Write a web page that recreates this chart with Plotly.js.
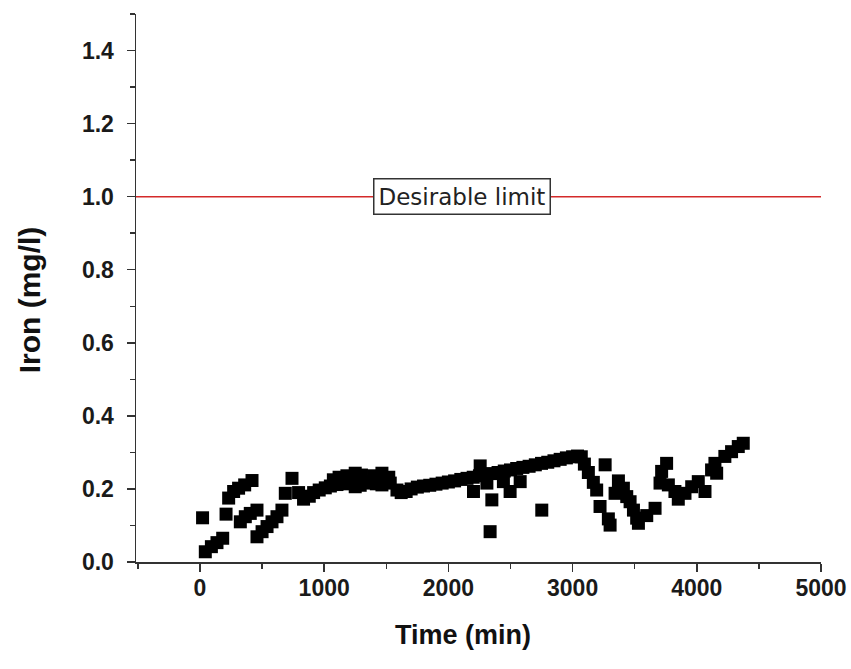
<!DOCTYPE html>
<html>
<head>
<meta charset="utf-8">
<script src="https://cdn.plot.ly/plotly-3.0.1.min.js"></script>
<style>html,body{margin:0;padding:0;background:#fff;}#chart{width:851px;height:669px;}</style>
</head>
<body>
<div id="chart"></div>
<script>
// Time (min) and Iron (mg/l) readings
const timeMin = [
  21, 43, 92, 137, 183, 210,
  231, 271, 311, 360, 419,
  325, 365, 405, 459,
  459, 500, 540, 580, 620, 660,
  687, 741, 794, 834, 880, 915, 960, 1009, 1050, 1074, 1103, 1120, 1150, 1183, 1200,
  1250, 1250, 1290, 1300, 1331, 1370, 1398, 1420, 1465, 1465, 1520, 1532, 1586, 1620, 1660,
  1700, 1750, 1800, 1850, 1900, 1950, 2000, 2050, 2100, 2150, 2200, 2250, 2300, 2350, 2400,
  2450, 2500, 2550, 2600, 2650, 2700, 2750, 2800, 2850, 2900, 2950, 3000, 3040,
  2202, 2256, 2310, 2350, 2336, 2403, 2443, 2497, 2578, 2752,
  3070, 3095, 3127, 3167, 3194, 3262, 3221, 3288, 3302, 3342, 3369, 3409, 3436, 3463,
  3490, 3516, 3530, 3597, 3664, 3704, 3717, 3757, 3771, 3824, 3851, 3905, 3959, 4012,
  4066, 4119, 4146, 4160, 4226, 4280, 4334, 4374
];
const ironMgL = [
  0.121, 0.028, 0.042, 0.053, 0.065, 0.131,
  0.175, 0.193, 0.202, 0.211, 0.223,
  0.110, 0.124, 0.133, 0.142,
  0.069, 0.083, 0.097, 0.110, 0.124, 0.142,
  0.188, 0.229, 0.190, 0.172, 0.180, 0.190, 0.197, 0.203, 0.208, 0.225, 0.212, 0.232, 0.218, 0.236, 0.214,
  0.243, 0.206, 0.210, 0.238, 0.216, 0.220, 0.236, 0.214, 0.243, 0.211, 0.232, 0.216, 0.197, 0.190, 0.193,
  0.200, 0.205, 0.208, 0.210, 0.213, 0.216, 0.219, 0.222, 0.226, 0.229, 0.232, 0.236, 0.238, 0.242, 0.245,
  0.249, 0.252, 0.256, 0.259, 0.262, 0.266, 0.270, 0.273, 0.277, 0.281, 0.285, 0.288, 0.290,
  0.193, 0.263, 0.216, 0.170, 0.083, 0.243, 0.220, 0.193, 0.220, 0.142,
  0.288, 0.268, 0.245, 0.218, 0.197, 0.266, 0.152, 0.118, 0.101, 0.188, 0.222, 0.202, 0.179, 0.165,
  0.142, 0.120, 0.106, 0.127, 0.147, 0.216, 0.248, 0.270, 0.211, 0.193, 0.172, 0.188, 0.206, 0.220,
  0.193, 0.252, 0.270, 0.243, 0.289, 0.302, 0.316, 0.325
];
const desirableLimit = 1.0;
const limitLabel = "Desirable limit";
const labelTime = 2110;
const xTitle = "Time (min)";
const yTitle = "Iron (mg/l)";
const xTickVals = [0, 1000, 2000, 3000, 4000, 5000];
const yTickVals = [0.0, 0.2, 0.4, 0.6, 0.8, 1.0, 1.2, 1.4];
const yTickText = ["0.0", "0.2", "0.4", "0.6", "0.8", "1.0", "1.2", "1.4"];

const boldFont = "Liberation Sans";
const data = [{
  type: "scatter",
  mode: "markers",
  x: timeMin,
  y: ironMgL,
  marker: {symbol: "square", size: 13, color: "#000"},
  cliponaxis: false,
  hoverinfo: "x+y"
}];

const layout = {
  width: 851, height: 669,
  margin: {l: 136, r: 30, t: 14, b: 107},
  paper_bgcolor: "#fff", plot_bgcolor: "#fff",
  showlegend: false,
  font: {family: boldFont, color: "#222"},
  xaxis: {
    range: [-515, 5000],
    tickvals: xTickVals,
    ticks: "outside", ticklen: 8, tickwidth: 1.5, tickcolor: "#333",
    minor: {dtick: 500, tick0: 0, ticks: "outside", ticklen: 5, tickwidth: 1.5, tickcolor: "#333", showgrid: false},
    showline: true, linecolor: "#333", linewidth: 1.5,
    showgrid: false, zeroline: false,
    ticklabelstandoff: -3,
    tickfont: {family: boldFont, size: 23, color: "#1a1a1a", weight: "bold"}
  },
  yaxis: {
    range: [0, 1.5],
    tickvals: yTickVals, ticktext: yTickText,
    ticks: "outside", ticklen: 8, tickwidth: 1.5, tickcolor: "#333",
    minor: {dtick: 0.1, tick0: 0, ticks: "outside", ticklen: 5, tickwidth: 1.5, tickcolor: "#333", showgrid: false},
    showline: true, linecolor: "#333", linewidth: 1.5,
    showgrid: false, zeroline: false,
    ticklabelstandoff: 8,
    tickfont: {family: boldFont, size: 23, color: "#1a1a1a", weight: "bold"}
  },
  shapes: [{
    type: "line", xref: "paper", x0: 0, x1: 1, yref: "y", y0: desirableLimit, y1: desirableLimit,
    line: {color: "#d42a2a", width: 1.5}, layer: "below"
  }],
  annotations: [{
    x: labelTime, y: desirableLimit, xref: "x", yref: "y",
    text: limitLabel, showarrow: false,
    font: {family: "DejaVu Sans", size: 23, color: "#222"},
    bgcolor: "#fff", bordercolor: "#333", borderwidth: 1.5, borderpad: 4
  }, {
    x: 0.478, y: -0.134, xref: "paper", yref: "paper",
    text: "<b>" + xTitle + "</b>", showarrow: false,
    font: {family: boldFont, size: 27, color: "#111"},
    xanchor: "center", yanchor: "middle"
  }, {
    x: -0.155, y: 0.479, xref: "paper", yref: "paper",
    text: "<b>" + yTitle + "</b>", showarrow: false, textangle: -90,
    font: {family: boldFont, size: 30, color: "#111"},
    xanchor: "center", yanchor: "middle"
  }]
};

Plotly.newPlot("chart", data, layout, {displayModeBar: false, staticPlot: true});
</script>
</body>
</html>
